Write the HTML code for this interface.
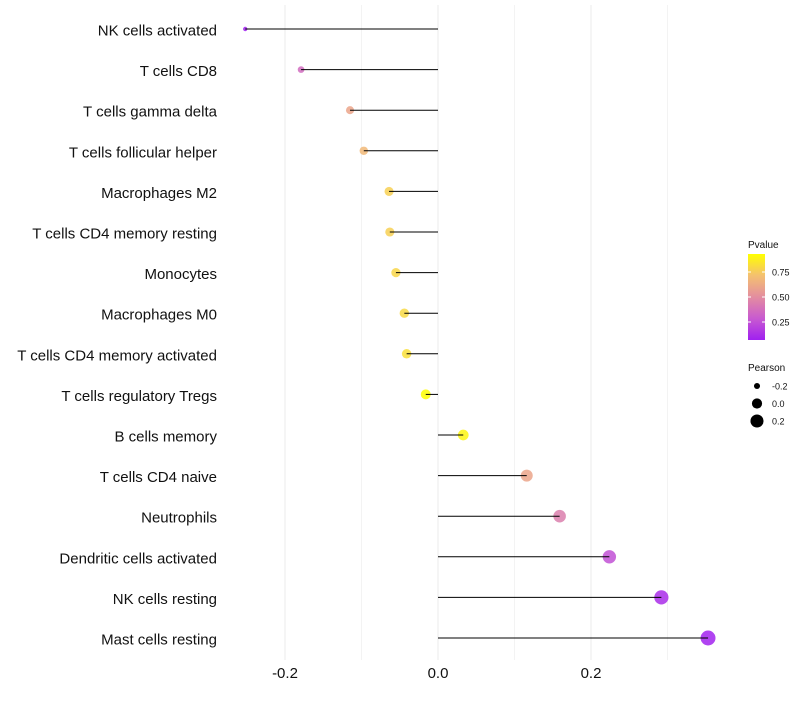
<!DOCTYPE html>
<html><head><meta charset="utf-8"><style>
body{margin:0;background:#fff;font-family:"Liberation Sans",sans-serif}
</style></head><body>
<svg id="chart" width="800" height="700" xmlns="http://www.w3.org/2000/svg" font-family="Liberation Sans, sans-serif"></svg>
<script>
const categories=["NK cells activated","T cells CD8","T cells gamma delta","T cells follicular helper","Macrophages M2","T cells CD4 memory resting","Monocytes","Macrophages M0","T cells CD4 memory activated","T cells regulatory  Tregs ","B cells memory","T cells CD4 naive","Neutrophils","Dendritic cells activated","NK cells resting","Mast cells resting"];
const pearson=[-0.252,-0.179,-0.115,-0.097,-0.064,-0.063,-0.055,-0.044,-0.041,-0.016,0.033,0.116,0.159,0.224,0.292,0.353];
const pvalues=[0.07,0.36,0.60,0.68,0.77,0.77,0.79,0.80,0.82,0.93,0.90,0.60,0.44,0.25,0.12,0.08];
const xTicks=[-0.2,0.0,0.2];
const xTickLabels=["-0.2","0.0","0.2"];
const pTicks=[0.25,0.5,0.75];
const pTickLabels=["0.25","0.50","0.75"];
const sizeTicks=[-0.2,0.0,0.2];
const sizeTickLabels=["-0.2","0.0","0.2"];

const NS="http://www.w3.org/2000/svg";
const svg=document.getElementById('chart');
function mk(t,a,p){const e=document.createElementNS(NS,t);for(const k in a)e.setAttribute(k,a[k]);(p||svg).appendChild(e);return e;}
const x=v=>438+v*765;
const y=i=>29+i*40.6;
const pMin=0.07,pMax=0.93;
const r=v=>Math.sqrt(Math.max(2.25,26+84*v));
const stops=[[160,32,240],[200,90,208],[227,141,160],[244,192,112],[255,255,0]];
function col(p){let t=(p-pMin)/(pMax-pMin);t=Math.max(0,Math.min(1,t));const s=t*4;const k=Math.min(3,Math.floor(s));const u=s-k;const a=stops[k],b=stops[k+1];return `rgb(${a.map((c,i)=>Math.round(c+(b[i]-c)*u)).join(',')})`;}

// grid
[-0.2,-0.1,0,0.1,0.2,0.3].forEach(v=>{const g=mk('line',{x1:x(v),x2:x(v),y1:5,y2:660,stroke:'#ebebeb','stroke-width':Math.abs(Math.round(v*10))%2===0?1:0.6});

});
xTicks.forEach((v,i)=>{const t=mk('text',{x:x(v),y:678,'text-anchor':'middle','font-size':15,fill:'#111'});t.textContent=xTickLabels[i];

});
categories.forEach((c,i)=>{
const t=mk('text',{x:217,y:y(i)+6.5,'text-anchor':'end','font-size':15,fill:'#111'});t.textContent=c;


const d=mk('circle',{cx:x(pearson[i]),cy:y(i),r:r(pearson[i]),fill:col(pvalues[i]),'fill-opacity':0.85});


const l=mk('line',{x1:x(0),x2:x(pearson[i]),y1:y(i),y2:y(i),stroke:'#000','stroke-width':1});


});
// color legend
const defs=mk('defs',{});const lg=mk('linearGradient',{id:'pg',x1:0,y1:1,x2:0,y2:0},defs);
[0,0.125,0.25,0.375,0.5,0.625,0.75,0.875,1].forEach(s=>mk('stop',{offset:s,'stop-color':col(pMin+s*(pMax-pMin))},lg));
const lt=mk('text',{x:748,y:248,'font-size':10,fill:'#111'});lt.textContent='Pvalue';


const bar=mk('rect',{x:748,y:254,width:17,height:86,fill:'url(#pg)'});


const py=p=>340-(p-pMin)/(pMax-pMin)*86;
pTicks.forEach((p,i)=>{mk('line',{x1:748,x2:751,y1:py(p),y2:py(p),stroke:'#fff'});mk('line',{x1:762,x2:765,y1:py(p),y2:py(p),stroke:'#fff'});
const t=mk('text',{x:772,y:py(p)+3.5,'font-size':9,fill:'#111'});t.textContent=pTickLabels[i];

});
const st=mk('text',{x:748,y:371,'font-size':10,fill:'#111'});st.textContent='Pearson';


sizeTicks.forEach((v,i)=>{const cy=386+i*17.5;const c=mk('circle',{cx:757,cy:cy,r:r(v),fill:'#000'});


const t=mk('text',{x:772,y:cy+3.5,'font-size':9,fill:'#111'});t.textContent=sizeTickLabels[i];

});
</script>
</body></html>
